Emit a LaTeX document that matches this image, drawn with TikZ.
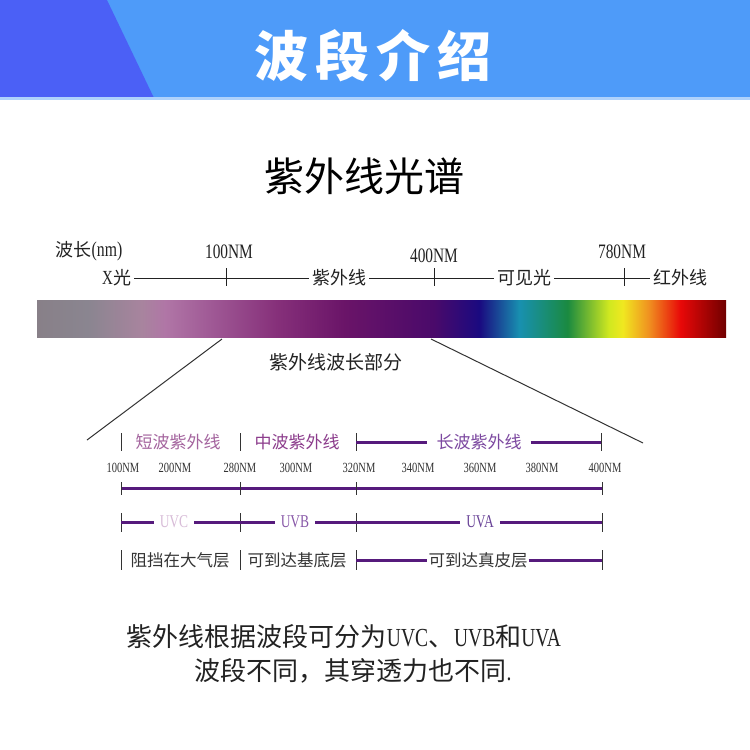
\documentclass[tikz,border=0pt]{standalone}
\usepackage{fontspec}
\newfontfamily\cjk{Noto Sans CJK SC}
\newfontfamily\cond[FakeStretch=0.75]{Liberation Serif}
\usetikzlibrary{calc}
\definecolor{hdrR}{HTML}{4E9BF9}
\definecolor{hdrL}{HTML}{4B60F6}
\definecolor{hdrLine}{HTML}{AFD2FC}
\definecolor{txt}{HTML}{222222}
\definecolor{gtxt}{HTML}{333333}
\definecolor{uvp}{HTML}{561A7C}
\definecolor{cShort}{HTML}{A4649E}
\definecolor{cMid}{HTML}{8C3C8C}
\definecolor{cLong}{HTML}{7C48A0}
\definecolor{cUVC}{HTML}{D8BCD8}
\definecolor{cUVB}{HTML}{8858A8}
\definecolor{cUVA}{HTML}{6A4498}
\definecolor{s0}{HTML}{888088}
\definecolor{s1}{HTML}{8A8590}
\definecolor{s2}{HTML}{A8849E}
\definecolor{s3}{HTML}{B076A6}
\definecolor{s4}{HTML}{A05A96}
\definecolor{s5}{HTML}{86307A}
\definecolor{s6}{HTML}{6A1468}
\definecolor{s7}{HTML}{4A0A6A}
\definecolor{s8}{HTML}{1A0A80}
\definecolor{s9}{HTML}{1890B0}
\definecolor{s10}{HTML}{1A8A40}
\definecolor{s11}{HTML}{D0E820}
\definecolor{s12}{HTML}{F0E820}
\definecolor{s13}{HTML}{F09020}
\definecolor{s14}{HTML}{E80808}
\definecolor{s15}{HTML}{700000}
\pgfdeclarehorizontalshading{spec}{100bp}{color(0bp)=(s0); color(25bp)=(s0); color(28.7bp)=(s1); color(32.6bp)=(s2); color(34.3bp)=(s3); color(37.5bp)=(s4); color(42.4bp)=(s5); color(47.3bp)=(s6); color(53.8bp)=(s7); color(57.1bp)=(s8); color(60bp)=(s9); color(63.5bp)=(s10); color(66.5bp)=(s11); color(67.5bp)=(s12); color(69.4bp)=(s13); color(71.7bp)=(s14); color(75bp)=(s15); color(100bp)=(s15)}
\begin{document}
\begin{tikzpicture}[x=1pt,y=-1pt,
  lab/.style={font=\cjk\fontsize{18}{18}\selectfont, text=txt, inner sep=0pt},
  rowlab/.style={font=\cjk\fontsize{18}{18}\selectfont, text=txt, inner ysep=0pt, inner xsep=3pt},
  nmbig/.style={font=\cond\fontsize{20.5}{20.5}\selectfont, text=txt, inner sep=0pt},
  nmsmall/.style={font=\cond\fontsize{14}{14}\selectfont, text=gtxt, inner sep=0pt},
  band/.style={font=\cjk\fontsize{17}{17}\selectfont, inner ysep=0pt, inner xsep=8pt},
  uvlab/.style={font=\cond\fontsize{18}{18}\selectfont, inner ysep=0pt, inner xsep=6pt},
  note/.style={font=\cjk\fontsize{16.5}{16.5}\selectfont, text=gtxt, inner ysep=0pt, inner xsep=2pt},
  thinline/.style={draw=txt, line width=0.8pt},
  tickmark/.style={draw=gtxt, line width=1pt},
  uvline/.style={draw=uvp, line width=3pt},
  bottom/.style={font=\cjk\fontsize{26}{26}\selectfont, text=txt, inner sep=0pt}]
\useasboundingbox (0,0) rectangle (750,750);
\fill[white] (0,0) rectangle (750,750);
% header
\fill[hdrR] (0,0) rectangle (750,98);
\fill[hdrL] (0,0) -- (107,0) -- (154,98) -- (0,98) -- cycle;
\fill[hdrLine] (0,97) rectangle (750,100);
\node[font=\cjk\bfseries\fontsize{54}{54}\selectfont, text=white, inner sep=0pt] (title) at (373,56) {波\hspace{7pt}段\hspace{7pt}介\hspace{7pt}绍};
% subtitle
\node[font=\cjk\fontsize{40}{40}\selectfont, text=black, inner sep=0pt] (sub) at (364,176) {紫外线光谱};
% top scale
\node[lab] (bochang) at (89,251) {波长{\cond\fontsize{21}{21}\selectfont(nm)}};
\node[nmbig] (n100) at (229,252) {100NM};
\node[nmbig] (n400) at (434,256) {400NM};
\node[nmbig] (n780) at (622,252) {780NM};
\node[rowlab, anchor=west] (xg) at (99,278) {{\cond\fontsize{20}{20}\selectfont X}光};
\node[rowlab] (zwx) at (339,278) {紫外线};
\node[rowlab] (kjg) at (524,278) {可见光};
\node[rowlab] (hwx) at (680,278) {红外线};
\draw[thinline] (xg.east) -- (zwx.west);
\draw[thinline] (zwx.east) -- (kjg.west);
\draw[thinline] (kjg.east) -- (hwx.west);
\draw[thinline] (226,268) -- (226,286);
\draw[thinline] (434,268) -- (434,286);
\draw[thinline] (624,268) -- (624,286);
% spectrum bar
\node[shading=spec, minimum width=689pt, minimum height=37pt, inner sep=0pt, outer sep=0pt] (bar) at (381.5,318.5) {};
\node[font=\cjk\fontsize{19}{19}\selectfont, text=txt, inner sep=0pt] (part) at (336,362) {紫外线波长部分};
\coordinate (dla) at (222,339);
\coordinate (dlb) at (87,440);
\coordinate (dra) at (431,339);
\coordinate (drb) at (643,443);
\draw[draw=gtxt, line width=1pt] (dla) -- (dlb);
\draw[draw=gtxt, line width=1pt] (dra) -- (drb);
% row 1: band names
\draw[tickmark] (121,433) -- (121,451);
\draw[tickmark] (240,433) -- (240,451);
\draw[tickmark] (356,433) -- (356,451);
\draw[tickmark] (601,433) -- (601,451);
\node[band, text=cShort] (sw) at (178,442) {短波紫外线};
\node[band, text=cMid] (mw) at (297,442) {中波紫外线};
\node[band, text=cLong, inner xsep=9pt] (lw) at (479,442) {长波紫外线};
\coordinate (l1a) at (356,442);
\coordinate (l1b) at (601,442);
\draw[uvline] (l1a) -- (lw.west);
\draw[uvline] (lw.east) -- (l1b);
% row 2: nm labels
\node[nmsmall] (m100) at (123,468) {100NM};
\node[nmsmall] (m200) at (175,468) {200NM};
\node[nmsmall] (m280) at (240,468) {280NM};
\node[nmsmall] (m300) at (296,468) {300NM};
\node[nmsmall] (m320) at (359,468) {320NM};
\node[nmsmall] (m340) at (418,468) {340NM};
\node[nmsmall] (m360) at (480,468) {360NM};
\node[nmsmall] (m380) at (542,468) {380NM};
\node[nmsmall] (m400) at (605,468) {400NM};
% row 3: scale line
\coordinate (r3a) at (121,488);
\coordinate (r3b) at (602,488);
\draw[uvline] (r3a) -- (r3b);
\draw[tickmark] (121,482) -- (121,495);
\draw[tickmark] (240,482) -- (240,495);
\draw[tickmark] (356,482) -- (356,495);
\draw[tickmark] (602,482) -- (602,495);
% row 4: UVC UVB UVA
\draw[tickmark] (121,513) -- (121,532);
\draw[tickmark] (240,513) -- (240,532);
\draw[tickmark] (356,513) -- (356,532);
\draw[tickmark] (602,513) -- (602,532);
\node[uvlab, text=cUVC] (uvc) at (174,522) {UVC};
\node[uvlab, text=cUVB] (uvb) at (295,522) {UVB};
\node[uvlab, text=cUVA] (uva) at (480,522) {UVA};
\coordinate (u0) at (121,522);
\coordinate (u1) at (240,522);
\coordinate (u2) at (356,522);
\coordinate (u3) at (602,522);
\draw[uvline] (u0) -- (uvc.west);
\draw[uvline] (uvc.east) -- (u1);
\draw[uvline] (u1) -- (uvb.west);
\draw[uvline] (uvb.east) -- (u2);
\draw[uvline] (u2) -- (uva.west);
\draw[uvline] (uva.east) -- (u3);
% row 5: notes
\draw[tickmark] (121,550) -- (121,570);
\draw[tickmark] (240,550) -- (240,570);
\draw[tickmark] (356,550) -- (356,570);
\draw[tickmark] (602,550) -- (602,570);
\node[note] (zd) at (180,560) {阻挡在大气层};
\node[note] (kd) at (297,560) {可到达基底层};
\node[note, inner xsep=1pt] (kz) at (478,560) {可到达真皮层};
\coordinate (n5a) at (356,560);
\coordinate (n5b) at (602,560);
\draw[uvline] (n5a) -- (kz.west);
\draw[uvline] (kz.east) -- (n5b);
% bottom text
\node[bottom] (b1) at (344,637) {紫外线根据波段可分为{\cond UVC}、{\cond UVB}和{\cond UVA}};
\node[bottom] (b2) at (353,671) {波段不同，其穿透力也不同{\cond .}};
\end{tikzpicture}
\end{document}
